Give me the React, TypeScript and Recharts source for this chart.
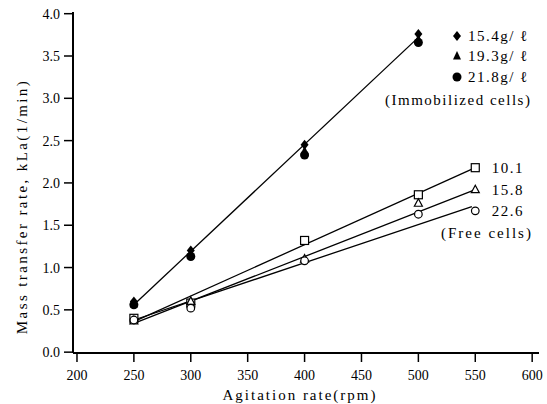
import React from 'react';
import {
  ComposedChart,
  Line,
  Scatter,
  XAxis,
  YAxis,
  LabelList,
} from 'recharts';

// agitation rates (rpm) where measurements were taken
const rpm = [250, 300, 400, 500];

// immobilized cells, kLa (1/min)
const immob154 = [0.6, 1.2, 2.45, 3.76];
const immob193 = [0.57, 1.15, 2.38, 3.7];
const immob218 = [0.56, 1.13, 2.33, 3.66];
const immobFit = [
  { x: 250, y: 0.56 },
  { x: 500, y: 3.72 },
];
const immobNames = ['15.4g/ ℓ', '19.3g/ ℓ', '21.8g/ ℓ'];

// free cells, kLa (1/min)
const free101 = [0.4, 0.58, 1.32, 1.86];
const free158 = [0.37, 0.6, 1.1, 1.76];
const free226 = [0.38, 0.52, 1.08, 1.63];
const fit101 = [
  { x: 250, y: 0.36 },
  { x: 550, y: 2.18 },
];
const fit158 = [
  { x: 250, y: 0.34 },
  { x: 550, y: 1.92 },
];
const fit226 = [
  { x: 250, y: 0.38 },
  { x: 547, y: 1.72 },
];
const end101 = [{ x: 550, y: 2.18, label: '10.1' }];
const end158 = [{ x: 550, y: 1.92, label: '15.8' }];
const end226 = [{ x: 550, y: 1.67, label: '22.6' }];

const xTicks = [200, 250, 300, 350, 400, 450, 500, 550, 600];
const yTicks = [0, 0.5, 1, 1.5, 2, 2.5, 3, 3.5, 4];

const toPoints = (ys: number[]) => ys.map((y, i) => ({ x: rpm[i], y }));

const FONT = '"Liberation Serif", "DejaVu Serif", serif';

const openSquare = (p: any) => (
  <rect x={p.cx - 4} y={p.cy - 4} width={8} height={8} fill="#fff" stroke="#000" strokeWidth={1.2} />
);
const openTriangle = (p: any) => (
  <polygon
    points={`${p.cx},${p.cy - 4.5} ${p.cx - 4},${p.cy + 3} ${p.cx + 4},${p.cy + 3}`}
    fill="#fff"
    stroke="#000"
    strokeWidth={1.2}
  />
);
const openCircle = (p: any) => (
  <circle cx={p.cx} cy={p.cy} r={3.8} fill="#fff" stroke="#000" strokeWidth={1.2} />
);
const filledDiamond = (p: any) => (
  <polygon
    points={`${p.cx},${p.cy - 5} ${p.cx + 4},${p.cy} ${p.cx},${p.cy + 5} ${p.cx - 4},${p.cy}`}
    fill="#000"
  />
);
const filledTriangle = (p: any) => (
  <polygon points={`${p.cx},${p.cy - 5} ${p.cx - 4},${p.cy + 3.5} ${p.cx + 4},${p.cy + 3.5}`} fill="#000" />
);
const filledCircle = (p: any) => <circle cx={p.cx} cy={p.cy} r={4.5} fill="#000" />;

const legendShapes = [filledDiamond, filledTriangle, filledCircle];
const legendRows = [36, 56, 77];

function Overlay() {
  return (
    <svg width={547} height={404} style={{ position: 'absolute', left: 0, top: 0, pointerEvents: 'none' }}>
      {immobNames.map((name, i) => (
        <g key={name}>
          {legendShapes[i]({ cx: 457, cy: legendRows[i] })}
          <text x={468} y={legendRows[i] + 5} fontFamily={FONT} fontSize={15} letterSpacing={1.5}>
            {name}
          </text>
        </g>
      ))}
      <text x={385} y={105} fontFamily={FONT} fontSize={15} letterSpacing={1.5}>
        (Immobilized cells)
      </text>
      <text x={441} y={238} fontFamily={FONT} fontSize={15} letterSpacing={2}>
        (Free cells)
      </text>
    </svg>
  );
}

const tickStyle = { fontFamily: FONT, fontSize: 14, fill: '#000' };
const endLabelStyle = { fontFamily: FONT, fontSize: 15, letterSpacing: 1.5, fill: '#000' };

const YLabel = (props: any) => {
  const { viewBox } = props;
  const cx = 22;
  const cy = viewBox.y + viewBox.height / 2 + 24;
  return (
    <text
      x={cx}
      y={cy}
      transform={`rotate(-90 ${cx} ${cy})`}
      textAnchor="middle"
      dominantBaseline="central"
      fontFamily={FONT}
      fontSize={15}
      letterSpacing={2.4}
      fill="#000"
    >
      Mass transfer rate, kLa(1/min)
    </text>
  );
};

export default function App() {
  return (
    <div style={{ position: 'absolute', left: 0, top: 0, width: 547, height: 404, background: '#fff' }}>
      <ComposedChart width={547} height={404} margin={{ top: 12, right: 8, bottom: 0, left: 0 }}>
        <XAxis
          xAxisId="b"
          type="number"
          dataKey="x"
          domain={[196.5, 606]}
          ticks={xTicks}
          tick={tickStyle}
          tickSize={9}
          tickMargin={8}
          height={51}
          stroke="#000"
          axisLine={{ stroke: '#000', strokeWidth: 2 }}
          tickLine={{ stroke: '#000', strokeWidth: 1.5 }}
          allowDataOverflow
          label={{
            value: 'Agitation rate(rpm)',
            position: 'insideBottom',
            offset: 4,
            dx: -6,
            style: { fontFamily: FONT, fontSize: 15, letterSpacing: 2, fill: '#000' },
          }}
        />
        <XAxis xAxisId="t" orientation="top" type="number" domain={[196.5, 606]} tick={false} tickLine={false} height={0} axisLine={{ stroke: '#000', strokeWidth: 1.3 }} />
        <YAxis
          yAxisId="l"
          type="number"
          domain={[-0.01, 4.02]}
          ticks={yTicks}
          tickFormatter={(v: number) => v.toFixed(1)}
          tick={tickStyle}
          tickSize={9}
          tickMargin={4}
          width={73}
          axisLine={{ stroke: '#000', strokeWidth: 2 }}
          tickLine={{ stroke: '#000', strokeWidth: 1.5 }}
          allowDataOverflow
          label={<YLabel />}
        />
        <YAxis yAxisId="r" orientation="right" type="number" domain={[-0.01, 4.02]} tick={false} tickLine={false} width={0} axisLine={{ stroke: '#000', strokeWidth: 1.3 }} />

        <Line xAxisId="b" yAxisId="l" data={immobFit} dataKey="y" stroke="#000" strokeWidth={1.3} dot={false} isAnimationActive={false} />
        <Line xAxisId="b" yAxisId="l" data={fit101} dataKey="y" stroke="#000" strokeWidth={1.3} dot={false} isAnimationActive={false} />
        <Line xAxisId="b" yAxisId="l" data={fit158} dataKey="y" stroke="#000" strokeWidth={1.3} dot={false} isAnimationActive={false} />
        <Line xAxisId="b" yAxisId="l" data={fit226} dataKey="y" stroke="#000" strokeWidth={1.3} dot={false} isAnimationActive={false} />

        <Scatter xAxisId="b" yAxisId="l" data={toPoints(immob154)} dataKey="y" shape={filledDiamond} isAnimationActive={false} />
        <Scatter xAxisId="b" yAxisId="l" data={toPoints(immob193)} dataKey="y" shape={filledTriangle} isAnimationActive={false} />
        <Scatter xAxisId="b" yAxisId="l" data={toPoints(immob218)} dataKey="y" shape={filledCircle} isAnimationActive={false} />

        <Scatter xAxisId="b" yAxisId="l" data={toPoints(free101)} dataKey="y" shape={openSquare} isAnimationActive={false} />
        <Scatter xAxisId="b" yAxisId="l" data={toPoints(free158)} dataKey="y" shape={openTriangle} isAnimationActive={false} />
        <Scatter xAxisId="b" yAxisId="l" data={toPoints(free226)} dataKey="y" shape={openCircle} isAnimationActive={false} />

        <Scatter xAxisId="b" yAxisId="l" data={end101} dataKey="y" shape={openSquare} isAnimationActive={false}>
          <LabelList dataKey="label" position="right" offset={12} style={endLabelStyle} />
        </Scatter>
        <Scatter xAxisId="b" yAxisId="l" data={end158} dataKey="y" shape={openTriangle} isAnimationActive={false}>
          <LabelList dataKey="label" position="right" offset={12} style={endLabelStyle} />
        </Scatter>
        <Scatter xAxisId="b" yAxisId="l" data={end226} dataKey="y" shape={openCircle} isAnimationActive={false}>
          <LabelList dataKey="label" position="right" offset={12} style={endLabelStyle} />
        </Scatter>
      </ComposedChart>
      <Overlay />
    </div>
  );
}
